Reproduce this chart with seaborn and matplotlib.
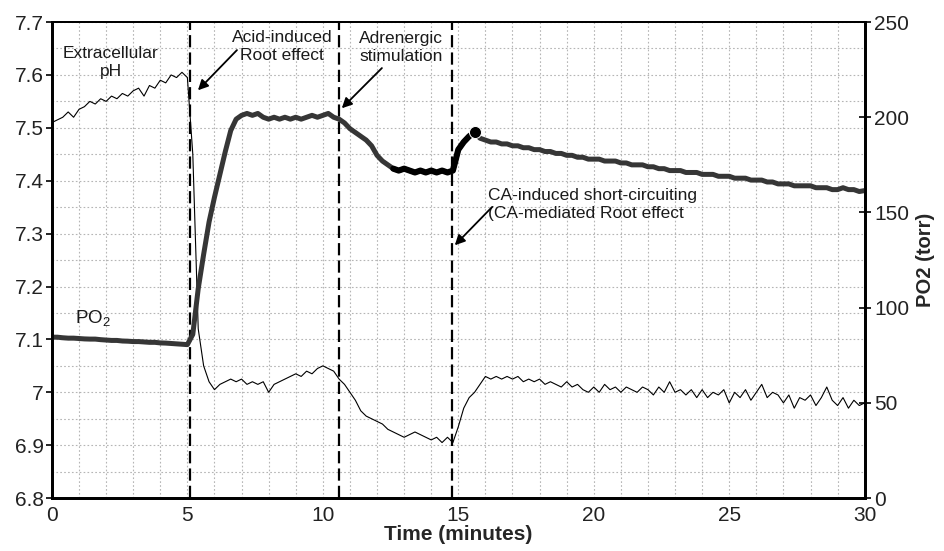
import numpy as np
import pandas as pd
import matplotlib
matplotlib.use("Agg")
import matplotlib.pyplot as plt
from matplotlib.ticker import MultipleLocator, FuncFormatter
import seaborn as sns

# ---- data (one value every 0.2 min, 0..30 min) ----
time_min = np.linspace(0, 30, 151)

ph_values = [
    7.510, 7.515, 7.520, 7.530, 7.520, 7.535, 7.540, 7.550, 7.545, 7.555,
    7.550, 7.560, 7.555, 7.565, 7.560, 7.570, 7.575, 7.560, 7.580, 7.575,
    7.590, 7.585, 7.600, 7.595, 7.605, 7.595, 7.450, 7.120, 7.050, 7.020,
    7.005, 7.015, 7.020, 7.025, 7.020, 7.025, 7.015, 7.020, 7.015, 7.020,
    7.000, 7.015, 7.020, 7.025, 7.030, 7.035, 7.030, 7.040, 7.035, 7.045,
    7.050, 7.045, 7.040, 7.025, 7.015, 7.000, 6.985, 6.965, 6.955, 6.950,
    6.945, 6.940, 6.930, 6.925, 6.920, 6.915, 6.920, 6.925, 6.920, 6.915,
    6.910, 6.915, 6.905, 6.915, 6.905, 6.935, 6.970, 6.990, 7.000, 7.015,
    7.030, 7.025, 7.030, 7.025, 7.030, 7.025, 7.030, 7.020, 7.025, 7.020,
    7.025, 7.015, 7.020, 7.015, 7.010, 7.020, 7.010, 7.015, 7.005, 7.000,
    7.010, 7.000, 7.015, 7.005, 7.010, 7.000, 7.010, 7.005, 7.000, 7.010,
    7.005, 6.995, 7.010, 7.000, 7.020, 7.000, 7.005, 6.995, 7.005, 6.990,
    7.005, 6.990, 7.000, 6.995, 7.005, 6.980, 7.000, 6.990, 7.005, 6.985,
    7.000, 7.015, 6.990, 7.000, 6.995, 6.980, 6.995, 6.970, 6.990, 6.985,
    6.995, 6.975, 6.990, 7.010, 6.985, 6.975, 6.990, 6.970, 6.985, 6.975,
    6.980,
]

po2_values = [
    84.5, 84.5, 84.2, 84.0, 84.0, 83.8, 83.6, 83.5, 83.5, 83.2,
    83.0, 82.8, 82.8, 82.5, 82.4, 82.2, 82.2, 82.0, 81.8, 81.8,
    81.5, 81.4, 81.2, 81.0, 80.8, 80.6, 86.0, 110.0, 128.0, 145.0,
    158, 170, 182, 193, 199, 201, 202, 201, 202, 200,
    199, 200, 199, 200, 199, 200, 199, 200, 201, 200,
    201, 202, 200, 199, 197, 194, 192, 190, 188, 185,
    180, 177, 175, 173, 172, 173, 172, 171, 172, 171,
    172, 171, 172, 171, 172, 183, 187, 190, 192, 189,
    188, 187, 187, 186, 186, 185, 185, 184, 184, 183,
    183, 182, 182, 181, 181, 180, 180, 179, 179, 178,
    178, 178, 177, 177, 177, 176, 176, 175, 175, 175,
    174, 174, 173, 173, 172, 172, 172, 171, 171, 171,
    170, 170, 170, 169, 169, 169, 168, 168, 168, 167,
    167, 167, 166, 166, 165, 165, 165, 164, 164, 164,
    164, 163, 163, 163, 162, 162, 163, 162, 162, 161,
    161.5,
]

event_times = [5.1, 10.6, 14.75]

x_ticks = [0, 5, 10, 15, 20, 25, 30]
ph_ticks = [6.8, 6.9, 7.0, 7.1, 7.2, 7.3, 7.4, 7.5, 7.6, 7.7]
po2_ticks = [0, 50, 100, 150, 200, 250]

df = pd.DataFrame({"time": time_min, "pH": ph_values, "PO2": po2_values})

# ---- style ----
sns.set_theme(style="white")
plt.rcParams["font.family"] = ["Liberation Sans", "DejaVu Sans"]
plt.rcParams["mathtext.fontset"] = "custom"
plt.rcParams["mathtext.rm"] = "Liberation Sans"
plt.rcParams["mathtext.it"] = "Liberation Sans"

fig = plt.figure(figsize=(9.44, 5.51), dpi=100)
ax = fig.add_axes([0.055, 0.096, 0.861, 0.864])
ax2 = ax.twinx()

# grid (dotted, every minute / every 0.05 pH)
ax.xaxis.set_minor_locator(MultipleLocator(1))
ax.yaxis.set_minor_locator(MultipleLocator(0.05))
ax.grid(which="both", color="#b5b5b5", linestyle=(0, (1.5, 2)), linewidth=0.8)
ax.set_axisbelow(True)

# pH trace (thin) on left axis
sns.lineplot(data=df, x="time", y="pH", ax=ax, color="black", linewidth=0.8)

# PO2 trace (thick) on right axis
sns.lineplot(data=df, x="time", y="PO2", ax=ax2, color="#363636", linewidth=3.6)
seg = df[(df["time"] > 12.5) & (df["time"] < 15.7)]
sns.lineplot(data=seg, x="time", y="PO2", ax=ax2, color="black", linewidth=4.4)
dot = df[np.isclose(df["time"], 15.6)]
sns.scatterplot(data=dot, x="time", y="PO2", ax=ax2, color="black", s=75, zorder=5)

for t in event_times:
    ax.axvline(t, color="black", linewidth=1.6, linestyle=(0, (5.5, 2.3)), zorder=4)

# axes limits / ticks
ax.set_xlim(0, 30)
ax.set_ylim(6.8, 7.7)
ax2.set_ylim(0, 250)
ax.set_xticks(x_ticks)
ax.set_yticks(ph_ticks)
ax2.set_yticks(po2_ticks)
ax.yaxis.set_major_formatter(FuncFormatter(lambda v, p: f"{v:g}"))

ax.tick_params(axis="both", which="major", labelsize=15, length=4, width=1.2,
               direction="out", colors="black", labelcolor="#222222", pad=2)
ax.tick_params(axis="both", which="minor", length=0)
ax2.tick_params(axis="y", which="major", labelsize=15, length=8, width=1.2,
                direction="inout", colors="black", labelcolor="#222222", pad=3)

ax.set_xlabel("Time (minutes)", fontsize=15, fontweight="bold", labelpad=0)
ax.set_ylabel("")
ax2.set_ylabel("PO2 (torr)", fontsize=14.5, fontweight="bold", labelpad=5)

for a in (ax, ax2):
    for side in ("left", "right", "bottom"):
        a.spines[side].set_color("black")
        a.spines[side].set_linewidth(2)
    a.spines["top"].set_color("black")
    a.spines["top"].set_linewidth(1.4)
    a.spines["top"].set_linestyle((0, (1, 1)))

# annotations
txt = dict(fontsize=12.5, color="#1a1a1a", linespacing=1.25)
arrow = dict(arrowstyle="-|>", color="black", lw=1.3, mutation_scale=15,
             shrinkA=0, shrinkB=0)
ax.text(2.18, 7.624, "Extracellular\npH", ha="center", va="center", **txt)
ax.text(8.5, 7.654, "Acid-induced\nRoot effect", ha="center", va="center", **txt)
ax.text(12.9, 7.651, "Adrenergic\nstimulation", ha="center", va="center", **txt)
ax.text(16.1, 7.356, "CA-induced short-circuiting\n(CA-mediated Root effect",
        ha="left", va="center", **txt)
ax.text(0.85, 7.141, "PO$_2$", ha="left", va="center", fontsize=13.5, color="#1a1a1a")

ax.annotate("", xy=(5.39, 7.571), xytext=(6.83, 7.647), arrowprops=arrow)
ax.annotate("", xy=(10.70, 7.537), xytext=(12.18, 7.613), arrowprops=arrow)
ax.annotate("", xy=(14.87, 7.278), xytext=(16.24, 7.350), arrowprops=arrow)

fig.savefig("out.png", dpi=100)
